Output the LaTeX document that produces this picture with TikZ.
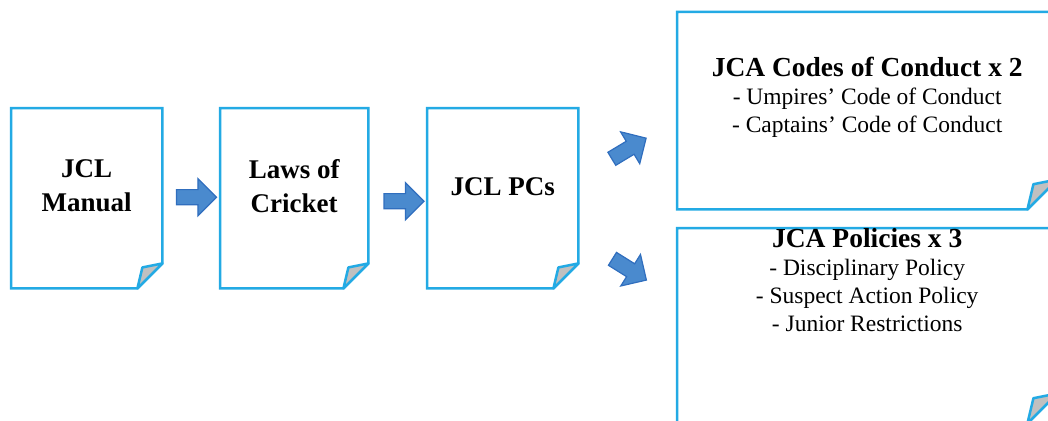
\documentclass[tikz,border=0pt]{standalone}
\usepackage{fontspec}
\setmainfont{Liberation Serif}
\usetikzlibrary{shapes.arrows,calc}

\definecolor{doccyan}{RGB}{35,170,228}
\definecolor{arrowfill}{RGB}{74,138,206}
\definecolor{arrowline}{RGB}{48,110,190}
\definecolor{foldgray}{RGB}{192,192,192}

\tikzset{
  docbox/.style={draw=none, inner sep=0, anchor=north west},
  docline/.style={draw=doccyan, line width=2.5pt},
  boxtext/.style={font=\bfseries\fontsize{27}{34}\selectfont, align=center, inner sep=0},
  listtext/.style={font=\fontsize{23.5}{28}\selectfont, align=center, inner sep=0, anchor=north},
  blockarrow/.style={single arrow, draw=arrowline, fill=arrowfill, line width=1.2pt,
    minimum height=40, inner xsep=0, inner ysep=7pt, single arrow head extend=11},
}

% page outline with a folded corner
\newcommand\docoutline[2]{%
  \draw[docline] (#1.north west) -- (#1.north east) -- ([yshift=#2]#1.south east)
    -- ([xshift=-#2]#1.south east) -- (#1.south west) -- cycle;
  \draw[docline, fill=foldgray, line join=round] ([xshift=-#2]#1.south east)
    -- ($(#1.south east)+(-0.8*#2,-0.84*#2)$) -- ([yshift=#2]#1.south east) -- cycle;}

\begin{document}
\begin{tikzpicture}[x=1pt, y=-1pt]
\useasboundingbox (0,0) rectangle (1048,420);
\clip (0,0) rectangle (1048,420);

% documents
\node[docbox, minimum width=151, minimum height=180] (manual) at (11,108) {};
\node[docbox, minimum width=148, minimum height=180] (laws) at (220,108) {};
\node[docbox, minimum width=151, minimum height=180] (pcs) at (427,108) {};
\node[docbox, minimum width=380, minimum height=197] (codes) at (677,12) {};
\node[docbox, minimum width=380, minimum height=195] (policies) at (677,228) {};

\docoutline{manual}{25}
\docoutline{laws}{25}
\docoutline{pcs}{25}
\docoutline{codes}{30}
\docoutline{policies}{30}

% labels
\node[boxtext] (manualtxt) at ([yshift=12]manual.center) {JCL\\Manual};
\node[boxtext] (lawstxt) at ([yshift=12]laws.center) {Laws of\\Cricket};
\node[boxtext] (pcstxt) at ([yshift=12]pcs.center) {JCL PCs};
\node[listtext] (codestxt) at ([yshift=-45]codes.north)
  {{\bfseries\fontsize{27.5}{30}\selectfont JCA Codes of Conduct x 2}\\
   - Umpires’ Code of Conduct\\- Captains’ Code of Conduct};
\node[listtext] (policiestxt) at (policies.north)
  {{\bfseries\fontsize{27.5}{30}\selectfont JCA Policies x 3}\\
   - Disciplinary Policy\\- Suspect Action Policy\\- Junior Restrictions};

% block arrows
\node[blockarrow] (arr1) at ($(manual.east)!0.5!(laws.west)+(1.5,-1)$) {};
\node[blockarrow] (arr2) at ($(laws.east)!0.5!(pcs.west)+(2.5,3)$) {};
\node[blockarrow, rotate=31] (arr3) at ($(pcs.east)!0.5!(codes.west)+(-2,-4)$) {};
\node[blockarrow, rotate=-32] (arr4) at ($(pcs.east)!0.5!(policies.west)+(-1.5,5.5)$) {};
\end{tikzpicture}
\end{document}
